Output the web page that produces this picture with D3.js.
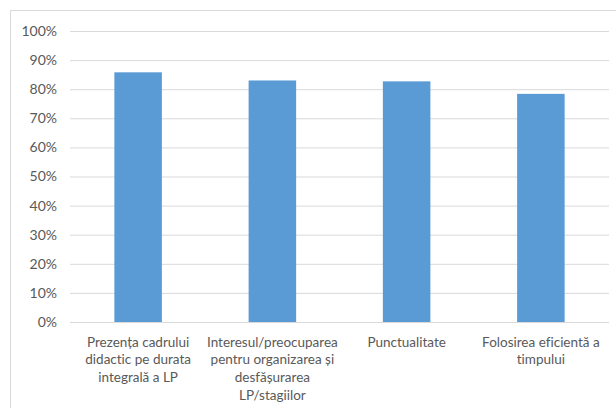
<!DOCTYPE html>
<html>
<head>
<meta charset="utf-8">
<script src="https://cdn.jsdelivr.net/npm/d3@7"></script>
<style>
  html, body { margin: 0; padding: 0; background: #fff; }
  svg { display: block; }
  text { font-family: Lato, "Open Sans", sans-serif; fill: #595959; font-variant-ligatures: none; }
</style>
</head>
<body>
<svg id="chart" width="616" height="408"></svg>
<script>
const categories = [
  "Prezența cadrului\ndidactic pe durata\nintegrală a LP",
  "Interesul/preocuparea\npentru organizarea și\ndesfășurarea\nLP/stagiilor",
  "Punctualitate",
  "Folosirea eficientă a\ntimpului"
];
const values = [0.858, 0.830, 0.827, 0.784];
const yTicks = [0, 0.1, 0.2, 0.3, 0.4, 0.5, 0.6, 0.7, 0.8, 0.9, 1.0];

const svg = d3.select("#chart");
const plot = { left: 70, right: 609, top: 31, bottom: 322 };

// outer chart border
svg.append("rect")
  .attr("x", 10.5).attr("y", 10.5)
  .attr("width", 620).attr("height", 420)
  .attr("fill", "#fff").attr("stroke", "#d9d9d9").attr("stroke-width", 1);

const y = d3.scaleLinear().domain([0, 1]).range([plot.bottom, plot.top]);
const x = d3.scaleBand().domain(categories).range([71, 608])
  .paddingInner(0.646).paddingOuter(0.323);

// y axis + gridlines
const yAxis = svg.append("g")
  .attr("transform", `translate(${plot.left},0)`)
  .call(d3.axisLeft(y).tickValues(yTicks).tickFormat(d3.format(".0%"))
    .tickSize(-(plot.right - plot.left)).tickPadding(13));
yAxis.select(".domain").remove();
yAxis.selectAll(".tick line").attr("stroke", "#d9d9d9").attr("stroke-width", 1);
yAxis.selectAll(".tick text").attr("font-size", 14).attr("fill", "#595959")
  .style("font-family", "Lato, 'Open Sans', sans-serif");

// bars
svg.append("g").selectAll("rect").data(values).join("rect")
  .attr("x", (d, i) => x(categories[i]))
  .attr("y", d => y(d))
  .attr("width", x.bandwidth())
  .attr("height", d => y(0) - y(d))
  .attr("fill", "#5b9bd5");

// x axis labels
const xAxis = svg.append("g")
  .attr("transform", `translate(0,${plot.bottom})`)
  .call(d3.axisBottom(x).tickSize(0).tickFormat(""));
xAxis.select(".domain").remove();
xAxis.selectAll(".tick").each(function(d) {
  const lines = d.split("\n");
  const t = d3.select(this).append("text")
    .attr("text-anchor", "middle")
    .attr("font-size", 13.5)
    .attr("fill", "#595959")
    .style("font-family", "Lato, 'Open Sans', sans-serif");
  lines.forEach((ln, i) => {
    t.append("tspan").attr("x", 0).attr("y", 24.5 + i * 17.8).text(ln);
  });
});
</script>
</body>
</html>
